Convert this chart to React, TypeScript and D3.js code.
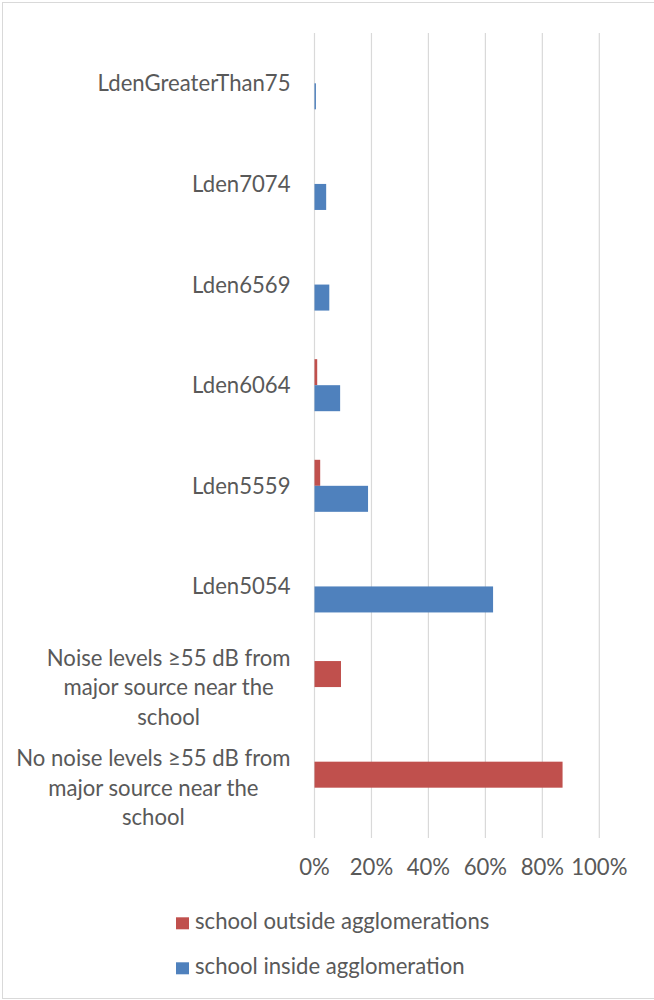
import React, { useEffect, useRef } from "react";
import * as d3 from "d3";

const categories: string[][] = [
  ["LdenGreaterThan75"],
  ["Lden7074"],
  ["Lden6569"],
  ["Lden6064"],
  ["Lden5559"],
  ["Lden5054"],
  ["Noise levels ≥55 dB from", "major source near the", "school"],
  ["No noise levels ≥55 dB from", "major source near the", "school"],
];
const seriesNames = ["school outside agglomerations", "school inside agglomeration"];
const outsideValues = [0, 0, 0, 0.0095, 0.02, 0, 0.093, 0.871];
const insideValues = [0.005, 0.041, 0.052, 0.09, 0.188, 0.627, 0, 0];
const tickValues = [0, 0.2, 0.4, 0.6, 0.8, 1.0];
const colors = ["#c0504d", "#4f81bd"];

const W = 654;
const H = 1000;
const FONT = "Lato, 'Open Sans', sans-serif";
const TEXT = "#595959";

export default function App() {
  const ref = useRef<SVGSVGElement | null>(null);

  useEffect(() => {
    const svg = d3.select(ref.current);
    svg.selectAll("*").remove();

    // frame
    svg.append("rect")
      .attr("x", 2.5).attr("y", 2.5).attr("width", 660).attr("height", 996)
      .attr("fill", "#fff").attr("stroke", "#d9d9d9").attr("stroke-width", 1);

    // fit font size so label matches reference width
    const probe = svg.append("text").attr("font-family", FONT).attr("font-size", 100).text("LdenGreaterThan75");
    const w100 = (probe.node() as SVGTextElement).getComputedTextLength();
    probe.remove();
    const fs = w100 > 0 ? (100 * 193) / w100 : 22;

    const x = d3.scaleLinear().domain([0, 1]).range([314.5, 599.3]);
    const idx = categories.map((_, i) => String(i));
    const y = d3.scaleBand<string>().domain(idx).range([33, 838]).paddingInner(0.483).paddingOuter(0.2415);
    const sub = d3.scaleBand<string>().domain(["0", "1"]).range([0, y.bandwidth()]);

    // gridlines
    svg.append("g").selectAll("line").data(tickValues).join("line")
      .attr("x1", (d) => x(d)).attr("x2", (d) => x(d))
      .attr("y1", 33).attr("y2", 838)
      .attr("stroke", "#d9d9d9").attr("stroke-width", 1.2);

    // bars
    const series = [outsideValues, insideValues];
    series.forEach((vals, s) => {
      svg.append("g").selectAll("rect").data(vals).join("rect")
        .attr("x", x(0))
        .attr("y", (_, i) => (y(String(i)) as number) + (sub(String(s)) as number))
        .attr("width", (d) => x(d) - x(0))
        .attr("height", sub.bandwidth())
        .attr("fill", colors[s]);
    });

    // tick labels
    svg.append("g").selectAll("text").data(tickValues).join("text")
      .attr("x", (d) => x(d)).attr("y", 875)
      .attr("text-anchor", "middle")
      .attr("font-family", FONT).attr("font-size", fs).attr("fill", TEXT)
      .text((d) => d3.format(".0%")(d));

    // category labels
    const right = 290.5;
    const lineH = 29.5;
    const capOff = fs * 0.36;
    categories.forEach((lines, i) => {
      const cy = (y(String(i)) as number) + y.bandwidth() / 2;
      const g = svg.append("g");
      if (lines.length === 1) {
        g.append("text").attr("x", right).attr("y", cy + capOff)
          .attr("text-anchor", "end")
          .attr("font-family", FONT).attr("font-size", fs).attr("fill", TEXT)
          .text(lines[0]);
      } else {
        const texts = lines.map((l, k) =>
          g.append("text").attr("y", cy + (k - (lines.length - 1) / 2) * lineH + capOff)
            .attr("text-anchor", "middle")
            .attr("font-family", FONT).attr("font-size", fs).attr("fill", TEXT)
            .text(l)
        );
        const maxW = d3.max(texts, (t) => (t.node() as SVGTextElement).getComputedTextLength()) || 0;
        texts.forEach((t) => t.attr("x", right - maxW / 2));
      }
    });

    // legend
    const legY = [929.3, 974.3];
    seriesNames.forEach((name, s) => {
      svg.append("rect").attr("x", 176).attr("y", legY[s] - 12).attr("width", 13).attr("height", 12)
        .attr("fill", colors[s]);
      svg.append("text").attr("x", 195).attr("y", legY[s])
        .attr("font-family", FONT).attr("font-size", fs).attr("fill", TEXT)
        .text(name);
    });
  }, []);

  return (
    <svg ref={ref} width={W} height={H} style={{ position: "absolute", left: 0, top: 0, background: "#fff" }} />
  );
}
